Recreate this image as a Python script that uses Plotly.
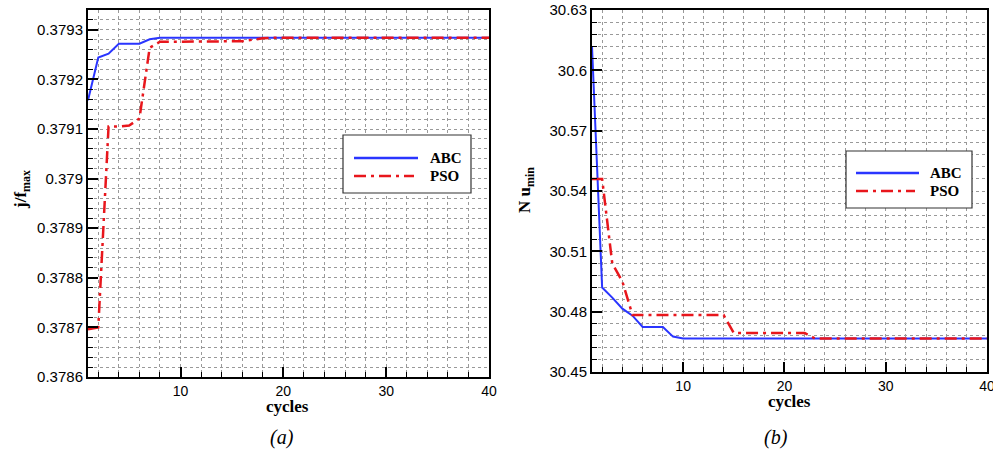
import plotly.graph_objects as go

W, H = 993, 453

cycles = list(range(1, 41))

# Panel (a): j/f_max
abc_a = [0.379158, 0.379244, 0.379252, 0.379272, 0.379272, 0.379272, 0.379281] + [0.379284] * 33
pso_a = [0.378696, 0.378700, 0.379105, 0.379105, 0.379107, 0.379121, 0.379264, 0.379276,
         0.379276, 0.379276, 0.379276, 0.379276, 0.379276, 0.379276, 0.379276, 0.379277,
         0.379280, 0.379283] + [0.379284] * 22

# Panel (b): Nu_min
abc_b = [30.612, 30.492, 30.487, 30.4815, 30.478, 30.4724, 30.4724, 30.4724, 30.4676] + [30.4667] * 31
pso_b = [30.546, 30.546, 30.504, 30.495] + [30.4783] * 10 + [30.4694] * 8 + [30.4667] * 18

ya_ticks = [0.3786, 0.3787, 0.3788, 0.3789, 0.3790, 0.3791, 0.3792, 0.3793]
ya_text = ["0.3786", "0.3787", "0.3788", "0.3789", "0.379", "0.3791", "0.3792", "0.3793"]
yb_ticks = [30.45, 30.48, 30.51, 30.54, 30.57, 30.60, 30.63]
yb_text = ["30.45", "30.48", "30.51", "30.54", "30.57", "30.6", "30.63"]
x_ticks = [10, 20, 30, 40]

BLUE = "#2a35ff"
RED = "#e8161c"
DASHDOT = "12px,5px,3px,5px"

def px(x):
    return x / W

def py(y):
    return 1 - y / H

fig = go.Figure()

fig.add_trace(go.Scatter(x=cycles, y=abc_a, mode="lines", name="ABC",
                         line=dict(color=BLUE, width=2), xaxis="x", yaxis="y", showlegend=False))
fig.add_trace(go.Scatter(x=cycles, y=pso_a, mode="lines", name="PSO",
                         line=dict(color=RED, width=2.5, dash=DASHDOT), xaxis="x", yaxis="y", showlegend=False))
fig.add_trace(go.Scatter(x=cycles, y=abc_b, mode="lines", name="ABC",
                         line=dict(color=BLUE, width=2), xaxis="x2", yaxis="y2", showlegend=False))
fig.add_trace(go.Scatter(x=cycles, y=pso_b, mode="lines", name="PSO",
                         line=dict(color=RED, width=2.5, dash=DASHDOT), xaxis="x2", yaxis="y2", showlegend=False))

ytickfont = dict(family="Liberation Sans, Arial", size=15, color="black")
xtickfont = dict(family="Liberation Sans, Arial", size=14, color="black")
grid = dict(showgrid=True, gridcolor="#999999", griddash="dot", gridwidth=1)

def xaxis(domain, anchor):
    return dict(domain=domain, anchor=anchor, range=[1, 40], tickvals=x_ticks,
                ticks="inside", ticklen=10, tickwidth=2, tickcolor="black",
                showline=True, linecolor="black", linewidth=2, mirror=True,
                tickfont=xtickfont, zeroline=False, automargin=False,
                ticklabeloverflow="allow",
                minor=dict(dtick=2, tick0=0, ticks="inside", ticklen=5, tickwidth=1,
                           tickcolor="black", **grid),
                **grid)

def yaxis(domain, anchor, rng, tv, tt, mdt):
    return dict(domain=domain, anchor=anchor, range=rng, tickvals=tv, ticktext=tt,
                ticks="inside", ticklen=10, tickwidth=2, tickcolor="black",
                showline=True, linecolor="black", linewidth=2, mirror=True,
                tickfont=ytickfont, zeroline=False, automargin=False,
                ticklabeloverflow="allow",
                minor=dict(dtick=mdt, tick0=rng[0], ticks="inside", ticklen=5, tickwidth=1,
                           tickcolor="black", **grid),
                **grid)

fig.update_layout(
    width=W, height=H,
    margin=dict(l=0, r=0, t=0, b=0, pad=0),
    paper_bgcolor="white", plot_bgcolor="white",
    xaxis=xaxis([px(88), px(489)], "y"),
    yaxis=yaxis([py(377), py(10)], "x", [0.3786, 0.37934], ya_ticks, ya_text, 0.00002),
    xaxis2=xaxis([px(592), px(987)], "y2"),
    yaxis2=yaxis([py(372), py(10)], "x2", [30.45, 30.63], yb_ticks, yb_text, 0.006),
)

serif_b = dict(family="Liberation Serif, Times New Roman", size=17, color="black")
ann = []
ann.append(dict(text="<b>cycles</b>", x=px(287), y=py(406), xref="paper", yref="paper",
                showarrow=False, font=serif_b, xanchor="center", yanchor="middle"))
ann.append(dict(text="<b>cycles</b>", x=px(789), y=py(401), xref="paper", yref="paper",
                showarrow=False, font=serif_b, xanchor="center", yanchor="middle"))
ann.append(dict(text="<b>j/f<sub>max</sub></b>", x=px(22), y=py(190), xref="paper", yref="paper",
                showarrow=False, font=serif_b, textangle=-90, xanchor="center", yanchor="middle"))
ann.append(dict(text="<b>N u<sub>min</sub></b>", x=px(526), y=py(190), xref="paper", yref="paper",
                showarrow=False, font=serif_b, textangle=-90, xanchor="center", yanchor="middle"))
ital = dict(family="Liberation Serif, Times New Roman", size=20, color="black")
ann.append(dict(text="<i>(a)</i>", x=px(282), y=py(437), xref="paper", yref="paper",
                showarrow=False, font=ital, xanchor="center", yanchor="middle"))
ann.append(dict(text="<i>(b)</i>", x=px(776), y=py(437), xref="paper", yref="paper",
                showarrow=False, font=ital, xanchor="center", yanchor="middle"))

shapes = []
leg_font = dict(family="Liberation Serif, Times New Roman", size=15, color="black")

def add_legend(x0, y0, x1, y1, lx0, lx1, ya, yp, tx):
    shapes.append(dict(type="rect", xref="paper", yref="paper", x0=px(x0), x1=px(x1),
                       y0=py(y1), y1=py(y0), line=dict(color="#333333", width=1.2),
                       fillcolor="white", layer="above"))
    shapes.append(dict(type="line", xref="paper", yref="paper", x0=px(lx0), x1=px(lx1),
                       y0=py(ya), y1=py(ya), line=dict(color=BLUE, width=2.5), layer="above"))
    shapes.append(dict(type="line", xref="paper", yref="paper", x0=px(lx0), x1=px(lx1 - 4),
                       y0=py(yp), y1=py(yp), line=dict(color=RED, width=2.5, dash=DASHDOT), layer="above"))
    ann.append(dict(text="<b>ABC</b>", x=px(tx), y=py(ya), xref="paper", yref="paper",
                    showarrow=False, font=leg_font, xanchor="left", yanchor="middle"))
    ann.append(dict(text="<b>PSO</b>", x=px(tx), y=py(yp), xref="paper", yref="paper",
                    showarrow=False, font=leg_font, xanchor="left", yanchor="middle"))

add_legend(343, 135, 471, 193, 354, 418, 158, 176, 428)
add_legend(846, 151, 972, 208, 856, 919, 173, 191, 928)

fig.update_layout(annotations=ann, shapes=shapes)

fig.write_html("out.html")
